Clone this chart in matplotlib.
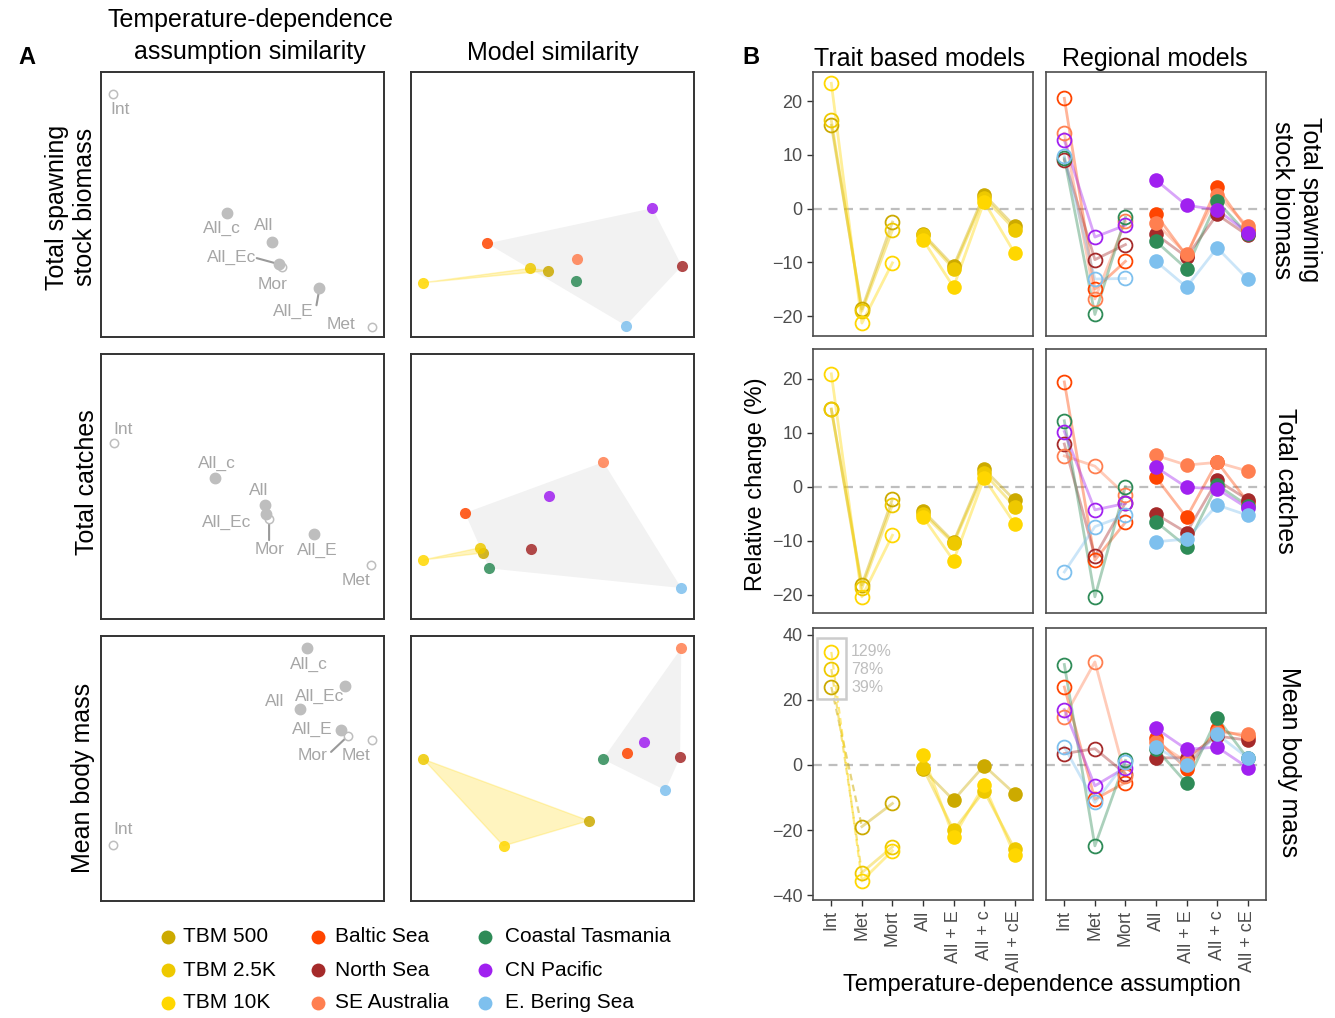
import matplotlib
matplotlib.use("Agg")
import matplotlib.pyplot as plt
from matplotlib.patches import Polygon, Rectangle
from matplotlib.lines import Line2D

plt.rcParams['font.family'] = ['Liberation Sans', 'DejaVu Sans']

# ---------------- data ----------------
assumptions = ["Int", "Met", "Mort", "All", "All + E", "All + c", "All + cE"]
tbm_models = ["TBM 500", "TBM 2.5K", "TBM 10K"]
regional_models = ["Baltic Sea", "North Sea", "SE Australia",
                   "Coastal Tasmania", "CN Pacific", "E. Bering Sea"]
model_colors = {
    "TBM 500": "#CCAA00", "TBM 2.5K": "#EEC900", "TBM 10K": "#FFD700",
    "Baltic Sea": "#FF4500", "North Sea": "#A52A2A", "SE Australia": "#FF7F50",
    "Coastal Tasmania": "#2E8B57", "CN Pacific": "#A020F0", "E. Bering Sea": "#7EC0EE",
}

# Panel B: relative change (%) per assumption
ssb_trait = {
    "TBM 500": [15.5, -18.7, -2.5, -4.7, -10.7, 2.6, -3.3],
    "TBM 2.5K": [16.4, -19.1, -4.0, -5.0, -11.2, 2.0, -3.9],
    "TBM 10K": [23.3, -21.3, -10.1, -5.8, -14.6, 1.3, -8.3],
}
ssb_regional = {
    "Baltic Sea": [20.5, -15.0, -9.8, -1.1, -8.8, 4.0, -4.0],
    "North Sea": [9.1, -9.5, -6.7, -4.8, -9.0, -1.1, -5.0],
    "SE Australia": [14.0, -16.8, -2.4, -2.7, -8.5, 2.6, -3.3],
    "Coastal Tasmania": [9.4, -19.7, -1.6, -6.1, -11.2, 1.4, -4.8],
    "CN Pacific": [12.7, -5.3, -3.1, 5.3, 0.6, -0.2, -4.5],
    "E. Bering Sea": [9.7, -13.1, -13.0, -9.8, -14.6, -7.3, -13.1],
}
catch_trait = {
    "TBM 500": [14.4, -18.2, -2.3, -4.5, -10.2, 3.2, -2.5],
    "TBM 2.5K": [14.3, -18.8, -3.4, -5.0, -10.5, 2.5, -3.7],
    "TBM 10K": [20.9, -20.4, -9.0, -5.6, -13.7, 1.6, -6.9],
}
catch_regional = {
    "Baltic Sea": [19.4, -13.6, -6.6, 1.7, -5.7, 4.6, -2.8],
    "North Sea": [7.9, -12.9, -3.0, -5.1, -8.5, 1.2, -2.4],
    "SE Australia": [5.7, 3.8, -1.5, 5.8, 4.0, 4.5, 2.9],
    "Coastal Tasmania": [12.2, -20.4, 0.0, -6.5, -11.1, 0.3, -3.5],
    "CN Pacific": [10.2, -4.3, -3.1, 3.6, -0.1, -0.4, -4.0],
    "E. Bering Sea": [-15.8, -7.4, -5.3, -10.2, -9.7, -3.4, -5.3],
}
mass_trait = {
    "TBM 500": [39, -18.9, -11.8, -1.3, -10.8, -0.2, -8.8],
    "TBM 2.5K": [78, -33.0, -25.1, -0.9, -20.0, -8.0, -25.8],
    "TBM 10K": [129, -35.5, -26.3, 3.0, -22.0, -6.2, -27.6],
}
mass_regional = {
    "Baltic Sea": [23.9, -10.5, -5.4, 8.2, -1.3, 10.9, 8.5],
    "North Sea": [3.5, 5.0, -2.7, 2.2, 2.2, 8.9, 7.6],
    "SE Australia": [14.7, 31.6, -3.5, 7.0, 1.0, 10.0, 9.4],
    "Coastal Tasmania": [30.8, -24.8, 1.4, 5.0, -5.6, 14.5, 2.0],
    "CN Pacific": [17.0, -6.4, -0.8, 11.2, 4.8, 5.5, -0.8],
    "E. Bering Sea": [5.5, -11.5, 0.8, 5.5, 0.0, 9.4, 2.2],
}

# Panel A: ordination coordinates (unitless)
assump_names = ["Int", "Met", "Mor", "All", "All_E", "All_c", "All_Ec"]
assump_open = [True, True, True, False, False, False, False]
ssb_assump_x = [0.044, 0.956, 0.640, 0.603, 0.772, 0.446, 0.628]
ssb_assump_y = [0.917, 0.039, 0.263, 0.360, 0.184, 0.469, 0.275]
catch_assump_x = [0.046, 0.954, 0.594, 0.580, 0.753, 0.403, 0.583]
catch_assump_y = [0.664, 0.204, 0.377, 0.430, 0.321, 0.532, 0.396]
mass_assump_x = [0.042, 0.958, 0.873, 0.703, 0.848, 0.728, 0.862]
mass_assump_y = [0.211, 0.608, 0.623, 0.725, 0.645, 0.955, 0.811]

sim_models = tbm_models + regional_models
ssb_model_x = [0.483, 0.420, 0.044, 0.270, 0.957, 0.585, 0.582, 0.853, 0.759]
ssb_model_y = [0.250, 0.259, 0.205, 0.353, 0.268, 0.293, 0.212, 0.486, 0.043]
catch_model_x = [0.254, 0.244, 0.044, 0.191, 0.424, 0.680, 0.277, 0.487, 0.955]
catch_model_y = [0.249, 0.269, 0.223, 0.400, 0.264, 0.592, 0.191, 0.464, 0.117]
mass_model_x = [0.628, 0.044, 0.327, 0.765, 0.951, 0.955, 0.678, 0.822, 0.899]
mass_model_y = [0.303, 0.535, 0.208, 0.557, 0.543, 0.954, 0.535, 0.601, 0.418]

# label offsets (pixels: right, down) and segment start offsets (None = no segment)
ssb_label_off = [(7, 16), (-31, -2), (-10, 17), (-8, -16), (-26, 23), (-5, 16), (-47, -7)]
ssb_label_seg = [None, None, None, None, (-3, 17), None, (-22, -6)]
catch_label_off = [(9, -14), (-15, 16), (0, 30), (-6, -15), (3, 16), (2, -15), (-39, 8)]
catch_label_seg = [None, None, (0, 21), None, None, None, None]
mass_label_off = [(10, -16), (-16, 16), (-35, 20), (-25, -7), (-29, -1), (2, 17), (-25, 10)]
mass_label_seg = [None, None, (-17, 16), None, None, None, None]

# ---------------- figure ----------------
W, H = 1335, 1018
fig = plt.figure(figsize=(W / 100, H / 100), dpi=100)


def add_ax(x0, y0, x1, y1):
    return fig.add_axes([x0 / W, 1 - y1 / H, (x1 - x0) / W, (y1 - y0) / H])


def ftext(x, y, s, **kw):
    fig.text(x / W, 1 - y / H, s, **kw)


def hull(points):
    pts = sorted(set(points))
    if len(pts) <= 2:
        return pts

    def cross(o, a, b):
        return (a[0] - o[0]) * (b[1] - o[1]) - (a[1] - o[1]) * (b[0] - o[0])
    lower, upper = [], []
    for p in pts:
        while len(lower) >= 2 and cross(lower[-2], lower[-1], p) <= 0:
            lower.pop()
        lower.append(p)
    for p in reversed(pts):
        while len(upper) >= 2 and cross(upper[-2], upper[-1], p) <= 0:
            upper.pop()
        upper.append(p)
    return lower[:-1] + upper[:-1]


def frame(ax, color="#333333", lw=1.4):
    for s in ax.spines.values():
        s.set_color(color)
        s.set_linewidth(lw)


GREY_PT = "#BEBEBE"
GREY_TXT = "#A6A6A6"

rowsA = [(72, 337), (354, 619), (636, 901)]
colsA = [(101, 384), (411, 694)]

assump_sets = [
    (ssb_assump_x, ssb_assump_y, ssb_label_off, ssb_label_seg),
    (catch_assump_x, catch_assump_y, catch_label_off, catch_label_seg),
    (mass_assump_x, mass_assump_y, mass_label_off, mass_label_seg),
]
model_sets = [(ssb_model_x, ssb_model_y), (catch_model_x, catch_model_y),
              (mass_model_x, mass_model_y)]

for r, (y0, y1) in enumerate(rowsA):
    # assumption similarity
    ax = add_ax(colsA[0][0], y0, colsA[0][1], y1)
    xs, ys, offs, segs = assump_sets[r]
    for name, op, x, y, off, sg in zip(assump_names, assump_open, xs, ys, offs, segs):
        if op:
            ax.plot(x, y, 'o', ms=6, mfc='white', mec=GREY_PT, mew=1.1, zorder=3)
        else:
            ax.plot(x, y, 'o', ms=7.5, color=GREY_PT, zorder=3)
        ax.annotate(name, (x, y), xytext=(off[0], -off[1]), textcoords='offset pixels',
                    ha='center', va='center', fontsize=12.5, color=GREY_TXT, zorder=2)
        if sg is not None:
            ax.annotate('', xy=(x, y), xytext=(sg[0], -sg[1]), textcoords='offset pixels',
                        arrowprops=dict(arrowstyle='-', color='#9A9A9A', lw=1.5,
                                        shrinkA=0, shrinkB=2), zorder=2)
    ax.set_xlim(0, 1)
    ax.set_ylim(0, 1)
    ax.set_xticks([])
    ax.set_yticks([])
    frame(ax)

    # model similarity
    ax = add_ax(colsA[1][0], y0, colsA[1][1], y1)
    mx, my = model_sets[r]
    reg_pts = [(mx[i], my[i]) for i, m in enumerate(sim_models) if m in regional_models]
    tbm_pts = [(mx[i], my[i]) for i, m in enumerate(sim_models) if m in tbm_models]
    ax.add_patch(Polygon(hull(reg_pts), closed=True, fc="#EBEBEB", ec='none', alpha=0.65, zorder=1))
    ax.add_patch(Polygon(hull(tbm_pts), closed=True, fc="#FFD700", ec='#FFD700', lw=1.0,
                         alpha=0.25, zorder=1))
    for m, x, y in zip(sim_models, mx, my):
        ax.plot(x, y, 'o', ms=8, color=model_colors[m], alpha=0.85, mec='none', zorder=3)
    ax.set_xlim(0, 1)
    ax.set_ylim(0, 1)
    ax.set_xticks([])
    ax.set_yticks([])
    frame(ax)

# ---------------- panel B ----------------
rowsB = [(72, 336), (349, 613), (628, 900)]
colsB = [(813, 1033), (1046, 1266)]
ylims = [(-23.7, 25.4), (-23.4, 25.5), (-41.4, 42.0)]
yticks = [[-20, -10, 0, 10, 20], [-20, -10, 0, 10, 20], [-40, -20, 0, 20, 40]]
data_sets = [(ssb_trait, ssb_regional), (catch_trait, catch_regional),
             (mass_trait, mass_regional)]
xpos = list(range(1, len(assumptions) + 1))

for r, (y0, y1) in enumerate(rowsB):
    for c, (x0, x1) in enumerate(colsB):
        ax = add_ax(x0, y0, x1, y1)
        series = data_sets[r][c]
        ax.axhline(0, color='#BEBEBE', lw=1.6, ls=(0, (4, 3)), zorder=1)
        clip_int = (r == 2 and c == 0)
        for i, (m, vals) in enumerate(series.items()):
            col = model_colors[m]
            first = 1 if clip_int else 0
            ax.plot(xpos[first:3], vals[first:3], '-', color=col, lw=2, alpha=0.4, zorder=2)
            ax.plot(xpos[3:], vals[3:], '-', color=col, lw=2, alpha=0.4, zorder=2)
            ax.plot(xpos[first:3], vals[first:3], 'o', ms=10, mfc='none', mec=col, mew=1.3, zorder=4)
            ax.plot(xpos[3:], vals[3:], 'o', ms=10.5, color=col, mec='none', zorder=4)
        ax.set_xlim(0.4, 7.6)
        ax.set_ylim(*ylims[r])
        ax.set_yticks(yticks[r])
        ax.set_xticks(xpos)
        ax.tick_params(colors='#333333', labelcolor='#4D4D4D', labelsize=13,
                       length=4, width=1)
        if c == 0:
            ax.set_yticklabels([str(t).replace('-', '\u2212') for t in yticks[r]])
        else:
            ax.tick_params(axis='y', left=False, labelleft=False)
        if r == 2:
            ax.set_xticklabels(assumptions, rotation=90)
        else:
            ax.tick_params(axis='x', bottom=False, labelbottom=False)
        frame(ax, color='#4D4D4D', lw=1.2)

        if clip_int:
            # inset key for off-scale Int values
            lo, hi = ylims[r]
            box_lo, box_hi = 0.74, 0.963
            ax.add_patch(Rectangle((0.52, lo + box_lo * (hi - lo)), 0.95,
                                   (box_hi - box_lo) * (hi - lo), fc='none',
                                   ec='#CCCCCC', lw=1.8, zorder=5))
            key_fy = [0.783, 0.849, 0.912]
            for m, fy in zip(tbm_models, key_fy):
                vals = series[m]
                yk = lo + fy * (hi - lo)
                ax.plot([xpos[0], xpos[1]], [yk, vals[1]], ls=(0, (3, 2)),
                        color=model_colors[m], lw=1.6, alpha=0.5, zorder=2)
                ax.plot(xpos[0], yk, 'o', ms=10, mfc='none', mec=model_colors[m], mew=1.3, zorder=6)
                ax.text(1.65, yk, f"{vals[0]:.0f}%", color='#BEBEBE', fontsize=11.5,
                        va='center', ha='left', zorder=6)

# ---------------- text ----------------
ftext(18, 58, "A", fontsize=17, fontweight='bold', ha='left', va='center')
ftext(742, 58, "B", fontsize=17, fontweight='bold', ha='left', va='center')
ftext(250, 36, "Temperature-dependence\nassumption similarity", fontsize=18,
      ha='center', va='center', linespacing=1.4)
ftext(553, 53, "Model similarity", fontsize=18, ha='center', va='center')
ftext(920, 59, "Trait based models", fontsize=18, ha='center', va='center')
ftext(1155, 59, "Regional models", fontsize=18, ha='center', va='center')

ftext(71, 207, "Total spawning\nstock biomass", fontsize=18, rotation=90,
      ha='center', va='center', linespacing=1.25)
ftext(87, 482, "Total catches", fontsize=18, rotation=90, ha='center', va='center')
ftext(83, 778, "Mean body mass", fontsize=18, rotation=90, ha='center', va='center')

ftext(1296, 200, "Total spawning\nstock biomass", fontsize=18, rotation=-90,
      ha='center', va='center', linespacing=1.25)
ftext(1285, 481, "Total catches", fontsize=18, rotation=-90, ha='center', va='center')
ftext(1289, 762, "Mean body mass", fontsize=18, rotation=-90, ha='center', va='center')

ftext(756, 484, "Relative change (%)", fontsize=17, rotation=90, ha='center', va='center')
ftext(1042, 985, "Temperature-dependence assumption", fontsize=17, ha='center', va='center')

# legend
leg_cols = [tbm_models, regional_models[:3], regional_models[3:]]
leg_mx = [168, 318, 485]
leg_tx = [183, 335, 505]
leg_y = [937, 970, 1003]
for cm, mxp, txp in zip(leg_cols, leg_mx, leg_tx):
    for m, yy in zip(cm, leg_y):
        fig.add_artist(Line2D([mxp / W], [1 - yy / H], marker='o', ms=10,
                              color=model_colors[m], mec='none', ls='none',
                              transform=fig.transFigure))
        ftext(txp, yy, m, fontsize=15, ha='left', va='center')

fig.savefig("out.png", dpi=100)
